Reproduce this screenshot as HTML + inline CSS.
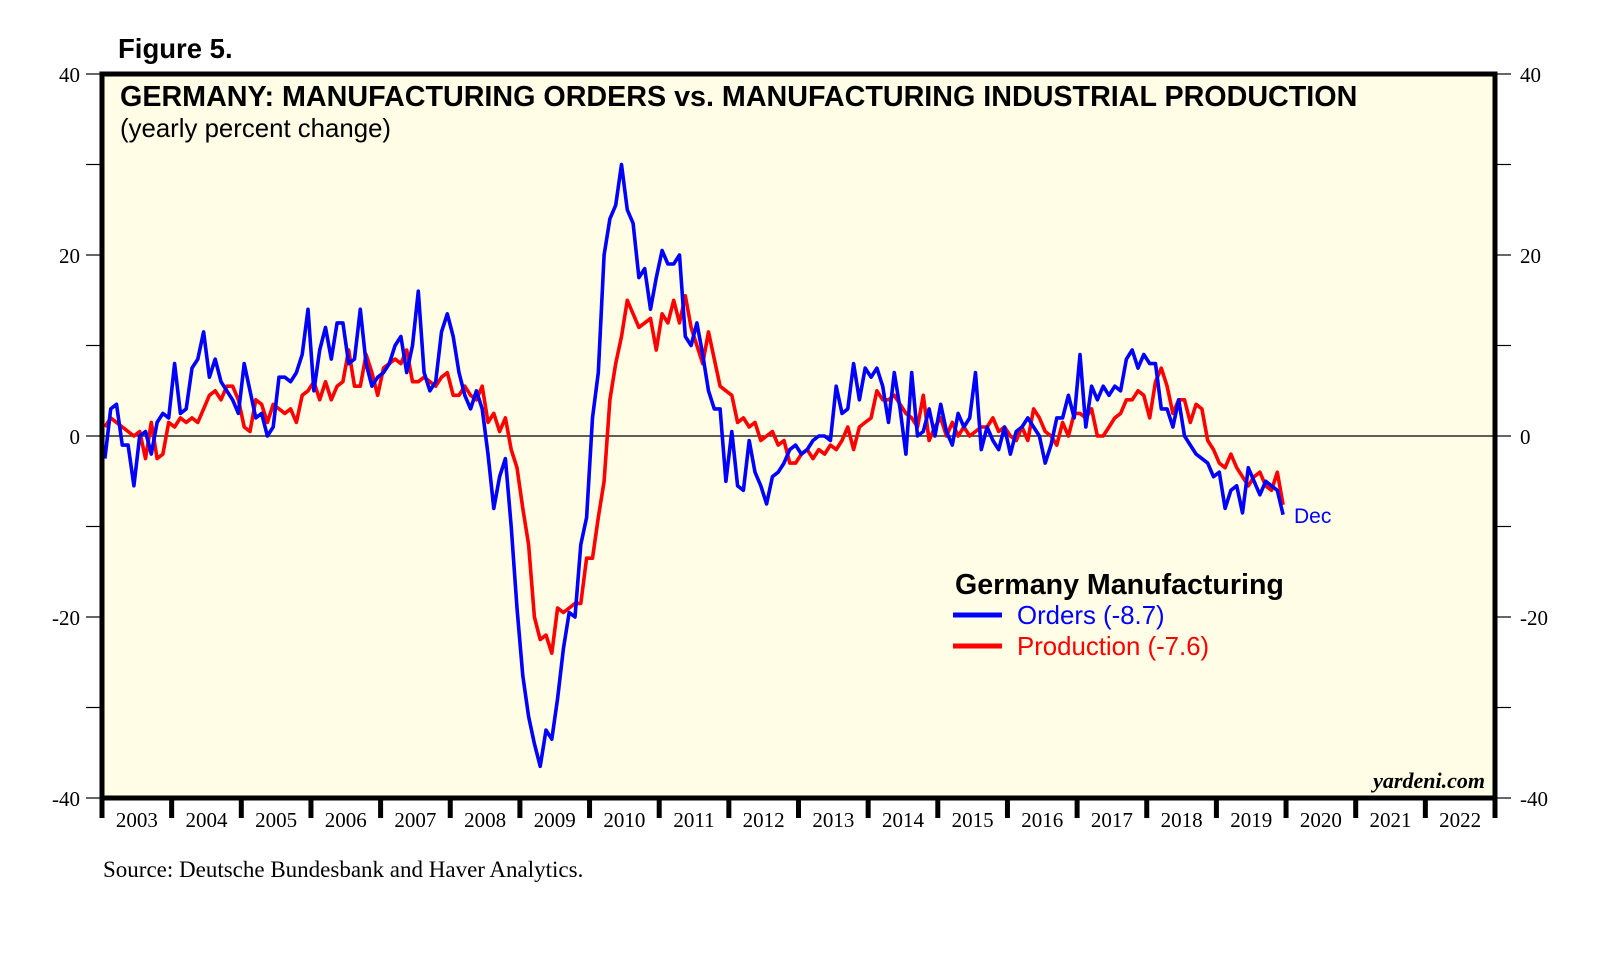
<!DOCTYPE html>
<html><head><meta charset="utf-8"><style>
body{margin:0;background:#fff;}
svg{display:block;}
</style></head><body>
<svg id="chart" width="1610" height="975" xmlns="http://www.w3.org/2000/svg">
<rect x="0" y="0" width="1610" height="975" fill="#fff"/>
<text x="118" y="58" font-family="Liberation Sans, sans-serif" font-weight="bold" font-size="27.5">Figure 5.</text>
<rect x="102" y="74" width="1393" height="724" fill="#fffde6"/>
<g id="axes"></g>
<g id="series"></g>
<rect x="102" y="74" width="1393" height="724" fill="none" stroke="#000" stroke-width="5"/>
<text x="120" y="106" font-family="Liberation Sans, sans-serif" font-weight="bold" font-size="28.7">GERMANY: MANUFACTURING ORDERS vs. MANUFACTURING INDUSTRIAL PRODUCTION</text>
<text x="120" y="137" font-family="Liberation Sans, sans-serif" font-size="25.8">(yearly percent change)</text>
<g>
<text x="955" y="594" font-family="Liberation Sans, sans-serif" font-weight="bold" font-size="28.6">Germany Manufacturing</text>
<line x1="953" y1="615" x2="1002" y2="615" stroke="#0000ff" stroke-width="5"/>
<text x="1017" y="624" font-family="Liberation Sans, sans-serif" font-size="25.8" fill="#0000ff">Orders (-8.7)</text>
<line x1="953" y1="646" x2="1002" y2="646" stroke="#ff0000" stroke-width="5"/>
<text x="1017" y="655" font-family="Liberation Sans, sans-serif" font-size="25.8" fill="#ff0000">Production (-7.6)</text>
</g>
<text x="1294" y="523" font-family="Liberation Sans, sans-serif" font-size="21" fill="#0000ff">Dec</text>
<text x="1485" y="788" text-anchor="end" font-family="Liberation Serif, serif" font-weight="bold" font-style="italic" font-size="22">yardeni.com</text>
<text x="103" y="877" font-family="Liberation Serif, serif" font-size="23">Source: Deutsche Bundesbank and Haver Analytics.</text>
</svg>
<script>
const years=["2003","2004","2005","2006","2007","2008","2009","2010","2011","2012","2013","2014","2015","2016","2017","2018","2019","2020","2021","2022"];
const yTicks=[40,20,0,-20,-40];
const orders=[-2.5,3,3.5,-1,-1,-5.5,0,0.5,-2,1.5,2.5,2,
8,2.5,3,7.5,8.5,11.5,6.5,8.5,6,5,4,2.5,
8,5,2,2.5,0,1,6.5,6.5,6,7,9,14,
5,9.5,12,8.5,12.5,12.5,8,8.5,14,8,5.5,6.5,
7,8,10,11,7,10,16,7,5,6,11.5,13.5,
11,7,4.5,3,5,3,-2,-8,-4.5,-2.5,-10,-19,
-26.5,-31,-34,-36.5,-32.5,-33.5,-29,-23.5,-19.5,-20,-12,-9,
2,7,20,24,25.5,30,25,23.5,17.5,18.5,14,17.5,
20.5,19,19,20,11,10,12.5,9,5,3,3,-5,
0.5,-5.5,-6,-0.5,-4,-5.5,-7.5,-4.5,-4,-3,-1.5,-1,
-2,-1.5,-0.5,0,0,-0.5,5.5,2.5,3,8,4,7.5,
6.5,7.5,5.5,1.5,7,3,-2,7,0,0.5,3,0,
3.5,0.5,-1,2.5,1,2,7,-1.5,1,-0.5,-1.5,1,
-2,0.5,1,2,1,0,-3,-1,2,2,4.5,2,
9,1,5.5,4,5.5,4.5,5.5,5,8.5,9.5,7.5,9,
8,8,3,3,1,4,0,-1,-2,-2.5,-3,-4.5,
-4,-8,-6,-5.5,-8.5,-3.5,-5,-6.5,-5,-5.5,-6,-8.7];
const production=[1,2,1.5,1,0.5,0,0.5,-2.5,1.5,-2.5,-2,1.5,
1,2,1.5,2,1.5,3,4.5,5,4,5.5,5.5,4,
1,0.5,4,3.5,1.5,3.5,3,2.5,3,1.5,4.5,5,
6,4,6,4,5.5,6,9.5,5.5,5.5,9,7,4.5,
7.5,8,8.5,8,9.5,6,6,6.5,6,5.5,6.5,7,
4.5,4.5,5.5,4.5,4,5.5,1.5,2.5,0.5,2,-1.5,-3.5,
-8,-12,-20,-22.5,-22,-24,-19,-19.5,-19,-18.5,-18.5,-13.5,
-13.5,-9,-5,4,8,11,15,13.5,12,12.5,13,9.5,
13.5,12.5,15,12.5,15.5,12,10,8,11.5,8.5,5.5,5,
4.5,1.5,2,1,1.5,-0.5,0,0.5,-1,-0.5,-3,-3,
-2,-1.5,-2.5,-1.5,-2,-1,-1.5,-0.5,1,-1.5,1,1.5,
2,5,4,4,4.5,3.5,2.5,2,1,4.5,-0.5,1,
2,0,1.5,0,1,0,0.5,1,1,2,0.5,1,
0,-0.5,1,-0.5,3,2,0.5,0,-1,1.5,0,2.5,
2.5,2,3,0,0,1,2,2.5,4,4,5,4.5,
2,6,7.5,5.5,2.5,4,4,1.5,3.5,3,-0.5,-1.5,
-3,-3.5,-2,-3.5,-4.5,-5.5,-4.5,-4,-5.5,-6,-4,-7.6];
const L=102,R=1495,T=74,B=798,yMin=-40,yMax=40,startYear=2003,nYears=20;
const NS="http://www.w3.org/2000/svg";
function yS(v){return B-(v-yMin)/(yMax-yMin)*(B-T);}
function xS(i){return L+(i+0.5)/12*((R-L)/nYears);}
function xYear(k){return L+k*(R-L)/nYears;}
function mk(tag,attrs,parent){const e=document.createElementNS(NS,tag);for(const k in attrs)e.setAttribute(k,attrs[k]);parent.appendChild(e);return e;}
const ax=document.getElementById('axes');
yTicks.forEach(v=>{
 const y=yS(v);
 let t=mk('text',{x:80,y:y+8,'text-anchor':'end','font-family':'Liberation Serif, serif','font-size':'21'},ax);
 t.textContent=v;
 
 
 t=mk('text',{x:1520,y:y+8,'font-family':'Liberation Serif, serif','font-size':'21'},ax);
 t.textContent=v;
 
 
});
for(let v=yMin;v<=yMax;v+=10){
 const y=yS(v);
 let l=mk('line',{x1:86,x2:102,y1:y,y2:y,stroke:'#000','stroke-width':1.2},ax);
 
 
 l=mk('line',{x1:1495,x2:1511,y1:y,y2:y,stroke:'#000','stroke-width':1.2},ax);
 
 
}
let zl=mk('line',{x1:L,x2:R,y1:yS(0),y2:yS(0),stroke:'#000','stroke-width':1.2},ax);


for(let k=0;k<=nYears;k++){
 const x=xYear(k);
 const l=mk('line',{x1:x,x2:x,y1:B,y2:B+20,stroke:'#000','stroke-width':5},ax);
 
 
}
years.forEach((yr,k)=>{
 const t=mk('text',{x:(xYear(k)+xYear(k+1))/2,y:827,'text-anchor':'middle','font-family':'Liberation Serif, serif','font-size':'21'},ax);
 t.textContent=yr;
 
 
});
const sg=document.getElementById('series');
function line(vals,color,name){
 const d=vals.map((v,i)=>(i?'L':'M')+xS(i).toFixed(1)+','+yS(v).toFixed(1)).join('');
 const p=mk('path',{d:d,fill:'none',stroke:color,'stroke-width':3.6,'stroke-linejoin':'round'},sg);
 
 
}
line(production,'#ff0000','production-line');
line(orders,'#0000ff','orders-line');
</script>
</body></html>
